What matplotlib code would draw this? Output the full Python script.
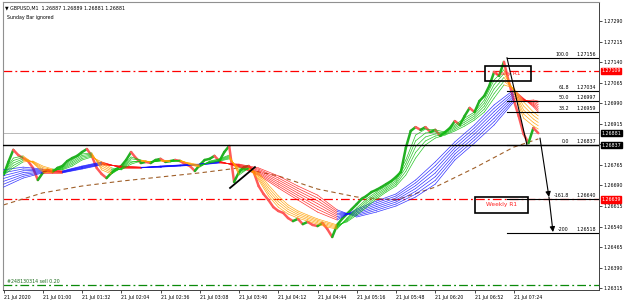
import numpy as np
import matplotlib
matplotlib.use("Agg")
import matplotlib.pyplot as plt
from matplotlib.collections import LineCollection
from matplotlib.patches import Rectangle
import matplotlib.transforms as mtrans

W, H = 625, 304

# ---------------- data (GBPUSD M1, bar index = minutes on chart) ----------------
close_bars = list(range(0, 437, 4))
close = [1.26728, 1.26776, 1.26820, 1.26801, 1.26790, 1.26779, 1.26754, 1.26710, 1.26736, 1.26747,
         1.26739, 1.26754, 1.26761, 1.26779, 1.26790, 1.26798, 1.26812, 1.26823, 1.26798, 1.26754,
         1.26732, 1.26717, 1.26736, 1.26750, 1.26761, 1.26783, 1.26812, 1.26790, 1.26772, 1.26776,
         1.26772, 1.26783, 1.26787, 1.26776, 1.26779, 1.26783, 1.26779, 1.26768, 1.26761, 1.26743,
         1.26765, 1.26783, 1.26787, 1.26798, 1.26779, 1.26812, 1.26834, 1.26703, 1.26739, 1.26757,
         1.26761, 1.26739, 1.26688, 1.26659, 1.26637, 1.26611, 1.26597, 1.26590, 1.26571, 1.26560,
         1.26568, 1.26549, 1.26557, 1.26546, 1.26542, 1.26553, 1.26531, 1.26502, 1.26546, 1.26568,
         1.26586, 1.26604, 1.26622, 1.26641, 1.26652, 1.26666, 1.26674, 1.26684, 1.26695, 1.26706,
         1.26721, 1.26739, 1.26827, 1.26889, 1.26903, 1.26893, 1.26903, 1.26885, 1.26893, 1.26871,
         1.26885, 1.26900, 1.26925, 1.26911, 1.26944, 1.26973, 1.26958, 1.26998, 1.27017, 1.27053,
         1.27104, 1.27090, 1.27141, 1.27068, 1.27002, 1.26944, 1.26878, 1.26845, 1.26900, 1.26881]

fast_bars = list(range(0, 433, 8)) + [436]
fast_a = [1.26739, 1.26790, 1.26798, 1.26772, 1.26739, 1.26739, 1.26757, 1.26783, 1.26805, 1.26809,
          1.26747, 1.26732, 1.26754, 1.26794, 1.26783, 1.26776, 1.26783, 1.26779, 1.26783, 1.26765,
          1.26757, 1.26779, 1.26787, 1.26801, 1.26728, 1.26754, 1.26710, 1.26652, 1.26611, 1.26586,
          1.26571, 1.26560, 1.26549, 1.26538, 1.26531, 1.26571, 1.26608, 1.26641, 1.26666, 1.26688,
          1.26714, 1.26783, 1.26874, 1.26896, 1.26893, 1.26885, 1.26911, 1.26936, 1.26958, 1.27002,
          1.27075, 1.27112, 1.27031, 1.26936, 1.26907, 1.26896]
fast_b = [1.26728, 1.26754, 1.26776, 1.26779, 1.26761, 1.26750, 1.26747, 1.26761, 1.26783, 1.26794,
          1.26776, 1.26754, 1.26747, 1.26768, 1.26779, 1.26776, 1.26779, 1.26779, 1.26779, 1.26772,
          1.26765, 1.26772, 1.26779, 1.26787, 1.26754, 1.26750, 1.26736, 1.26692, 1.26652, 1.26619,
          1.26597, 1.26582, 1.26568, 1.26557, 1.26546, 1.26557, 1.26582, 1.26611, 1.26641, 1.26666,
          1.26688, 1.26728, 1.26790, 1.26838, 1.26863, 1.26874, 1.26889, 1.26907, 1.26929, 1.26958,
          1.27009, 1.27057, 1.27046, 1.26995, 1.26958, 1.26944]

slow_bars = list(range(0, 433, 16)) + [436]
slow_a = [1.26747, 1.26757, 1.26750, 1.26743, 1.26761, 1.26776, 1.26754, 1.26754, 1.26761, 1.26765,
          1.26768, 1.26779, 1.26757, 1.26728, 1.26681, 1.26637, 1.26593, 1.26564, 1.26604, 1.26633,
          1.26659, 1.26710, 1.26776, 1.26849, 1.26911, 1.26984, 1.27039, 1.26977, 1.26958]
slow_b = [1.26684, 1.26717, 1.26736, 1.26736, 1.26750, 1.26765, 1.26761, 1.26757, 1.26757, 1.26761,
          1.26765, 1.26772, 1.26768, 1.26754, 1.26725, 1.26688, 1.26655, 1.26601, 1.26575, 1.26593,
          1.26615, 1.26648, 1.26695, 1.26783, 1.26845, 1.26911, 1.26995, 1.27002, 1.26998]

ma_bars = list(range(0, 417, 32)) + [436]
ma_long = [1.26619, 1.26663, 1.26688, 1.26706, 1.26721, 1.26736, 1.26754, 1.26725, 1.26677, 1.26648,
           1.26637, 1.26684, 1.26754, 1.26830, 1.26860]

xtick_bars = list(range(0, 417, 32))
xtick_labels = ["21 Jul 2020", "21 Jul 01:00", "21 Jul 01:32", "21 Jul 02:04", "21 Jul 02:36",
                "21 Jul 03:08", "21 Jul 03:40", "21 Jul 04:12", "21 Jul 04:44", "21 Jul 05:16",
                "21 Jul 05:48", "21 Jul 06:20", "21 Jul 06:52", "21 Jul 07:24"]
ytick_vals = [1.26315, 1.26390, 1.26465, 1.26540, 1.26615, 1.26690, 1.26765, 1.26840,
              1.26915, 1.26990, 1.27065, 1.27140, 1.27215, 1.27290]
ytick_hidden = [1.26840]   # covered by the price label box on the chart

fib_names = ["100.0", "61.8", "50.0", "38.2", "0.0", "-161.8", "-200"]
fib_prices = [1.27156, 1.27034, 1.26997, 1.26959, 1.26837, 1.26640, 1.26518]
fib_start_bar = 410.5

daily_r1 = 1.27109
weekly_r1 = 1.26639
support = 1.26837
bid = 1.26881
order_price = 1.26326

# chart objects (bar, price)
trend1_bars, trend1_prices = [184.7, 205.0], [1.26681, 1.26757]
fibdiag_bars, fibdiag_prices = [410.5, 426.8], [1.27156, 1.26837]
arrow_bars, arrow_prices = [437.4, 444.7, 448.0], [1.26863, 1.26648, 1.26520]
daily_box = (392.5, 430.0, 1.27071, 1.27126)
weekly_box = (384.4, 427.6, 1.26590, 1.26648)

# ---------------- figure ----------------
fig = plt.figure(figsize=(W / 100, H / 100), dpi=100)
fig.patch.set_facecolor("white")
ax = fig.add_axes([3 / W, (H - 290) / H, (599 - 3) / W, 288 / H])
ax.set_xlim(-0.41, 485.5)
ax.set_ylim(1.263085, 1.273597)

FS = 3.4
DASHDOT = (0, (7, 2.5, 1.5, 2.5))
# horizontal lines
ax.axhline(daily_r1, color="#ff0000", lw=0.9, ls=DASHDOT, zorder=1)
ax.axhline(weekly_r1, color="#ff0000", lw=0.9, ls=DASHDOT, zorder=1)
ax.axhline(bid, color="#b8b8b8", lw=0.7, zorder=1)
ax.axhline(support, color="black", lw=1.0, zorder=4)
ax.axhline(order_price, color="#0a8a0a", lw=0.9, ls=DASHDOT, zorder=1)


def colored_lines(xs, ys, up_c, dn_c, lw, z, alpha=1.0, ref=None):
    xs = np.asarray(xs, float)
    ys = np.asarray(ys, float)
    r = ys if ref is None else np.asarray(ref, float)
    segs = [[(xs[i], ys[i]), (xs[i + 1], ys[i + 1])] for i in range(len(xs) - 1)]
    cols = [up_c if r[i + 1] >= r[i] else dn_c for i in range(len(xs) - 1)]
    lc = LineCollection(segs, colors=cols, linewidths=lw, zorder=z, alpha=alpha,
                        capstyle="round")
    ax.add_collection(lc)


def ribbon(bars, a, b, n, up_c, dn_c, lw, z, alpha=1.0):
    a = np.asarray(a)
    b = np.asarray(b)
    mid = (a + b) / 2
    for t in np.linspace(0, 1, n):
        colored_lines(bars, a + t * (b - a), up_c, dn_c, lw, z, alpha, ref=mid)


# long MA
ax.plot(ma_bars, ma_long, color="#a0602a", lw=0.8, ls=(0, (4, 3)), zorder=2)
# slow ribbon
ribbon(slow_bars, slow_a, slow_b, 7, "#1010ff", "#ff1010", 0.5, 3, 0.85)
# price
colored_lines(close_bars, close, "#22b022", "#ff5a5a", 1.8, 2.5)
# fast ribbon
ribbon(fast_bars, fast_a, fast_b, 5, "#10c010", "#ffa000", 0.5, 3.2, 0.9)

# fib lines and labels
xmax = ax.get_xlim()[1]
for name, p in zip(fib_names, fib_prices):
    ax.plot([fib_start_bar, xmax], [p, p], color="black", lw=0.8, zorder=4)
    ax.text(461.0, p + 0.00004, name, fontsize=FS, ha="right", va="bottom", zorder=6)
    ax.text(467.5, p + 0.00004, f"{p:.5f}", fontsize=FS, ha="left", va="bottom", zorder=6)

# chart objects
ax.plot(trend1_bars, trend1_prices, color="black", lw=1.3, zorder=5)
ax.plot(fibdiag_bars, fibdiag_prices, color="black", lw=0.8, zorder=5)
ax.annotate("", xy=(arrow_bars[1], arrow_prices[1]), xytext=(arrow_bars[0], arrow_prices[0]),
            arrowprops=dict(arrowstyle="-|>,head_width=0.15,head_length=0.3", color="black",
                            lw=0.8, shrinkA=0, shrinkB=0), zorder=6)
ax.annotate("", xy=(arrow_bars[2], arrow_prices[2]), xytext=(arrow_bars[1], arrow_prices[1]),
            arrowprops=dict(arrowstyle="-|>,head_width=0.15,head_length=0.3", color="black",
                            lw=0.8, shrinkA=0, shrinkB=0), zorder=6)

for (x0, x1, y0, y1), label in [(daily_box, "Daily R1"), (weekly_box, "Weekly R1")]:
    ax.add_patch(Rectangle((x0, y0), x1 - x0, y1 - y0, fill=False, ec="black", lw=1.2, zorder=6))
    ax.text((x0 + x1) / 2, (y0 + y1) / 2, label, color="#ff2020", fontsize=4.2,
            ha="center", va="center", zorder=6)

# order label
ax.text(3, order_price + 0.00005, "#248130314 sell 0.20", fontsize=FS, color="#1a6a1a",
        ha="left", va="bottom", zorder=6)

# title
fig.text(5 / W, 1 - 8 / H, "\u25bc GBPUSD,M1  1.26887 1.26889 1.26881 1.26881", fontsize=FS,
         ha="left", va="center")
fig.text(7 / W, 1 - 17 / H, "Sunday Bar ignored", fontsize=FS, ha="left", va="center")

# axes styling
ax.set_xticks(xtick_bars)
ax.set_xticklabels(xtick_labels)
for lbl in ax.get_xticklabels():
    lbl.set_ha("left")
ax.tick_params(axis="x", direction="out", length=2, width=0.5, labelsize=FS, pad=1.5)
ax.yaxis.tick_right()
ax.set_yticks(ytick_vals)
ax.set_yticklabels(["" if v in ytick_hidden else f"{v:.5f}" for v in ytick_vals])
ax.tick_params(axis="y", direction="out", length=2, width=0.5, labelsize=FS, pad=1)
for s in ["left", "top"]:
    ax.spines[s].set_color("#909090")
    ax.spines[s].set_linewidth(0.8)
for s in ["right", "bottom"]:
    ax.spines[s].set_color("#404040")
    ax.spines[s].set_linewidth(0.7)

# price labels on the right axis
trans = mtrans.blended_transform_factory(ax.transAxes, ax.transData)
for p, bg in [(daily_r1, "#ff0000"), (bid, "black"), (support, "black"), (weekly_r1, "#ff0000")]:
    ax.text(1.004, p, f"{p:.5f}", transform=trans, fontsize=FS, color="white", ha="left",
            va="center", clip_on=False, zorder=10,
            bbox=dict(boxstyle="square,pad=0.12", fc=bg, ec=bg))

fig.savefig("out.png", dpi=100, facecolor="white")
